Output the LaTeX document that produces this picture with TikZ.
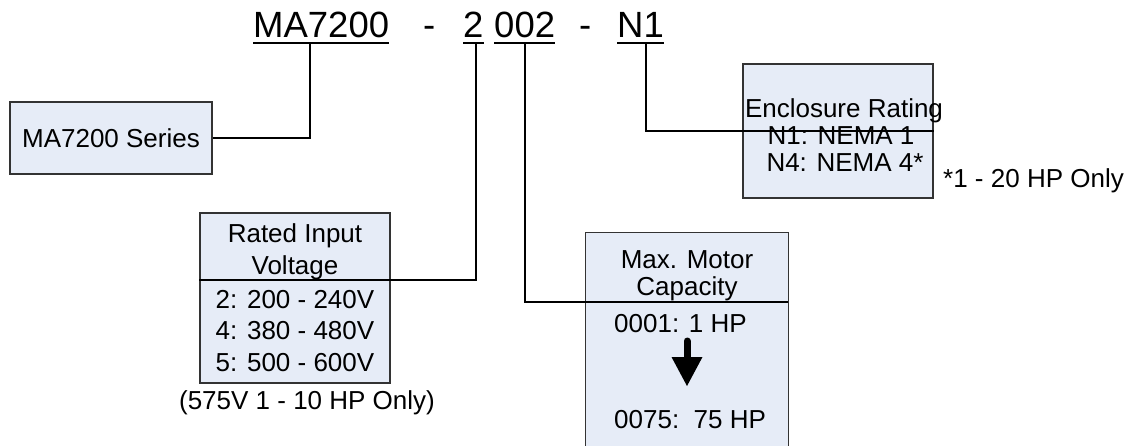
\documentclass[tikz,border=0pt]{standalone}
\usepackage{fontspec}
\setmainfont{Liberation Sans}
\definecolor{boxfill}{HTML}{E6ECF7}
\begin{document}
\begin{tikzpicture}[x=1pt,y=-1pt,
  box/.style={draw=black!80, line width=1.2pt, fill=boxfill, inner sep=0pt},
  conn/.style={line width=1.8pt},
  txt/.style={inner sep=0pt, anchor=base, font=\fontsize{26}{30}\selectfont},
  ttl/.style={inner sep=0pt, anchor=base west, font=\fontsize{36.5}{40}\selectfont},
  uline/.style={line width=1.8pt}
]
\useasboundingbox (0,0) rectangle (1131,446);

% title
\node[ttl] (t1) at (253,38) {MA7200};
\node[ttl] (d1) at (423,38) {-};
\node[ttl] (t2) at (463,38) {2};
\node[ttl] (t3) at (494,38) {002};
\node[ttl] (d2) at (579,38) {-};
\node[ttl] (t4) at (617,38) {N1};
\foreach \n in {t1,t2,t3,t4}{
  \draw[uline] ([yshift=-5pt]\n.base west) -- ([yshift=-5pt]\n.base east);
}

% boxes
\node[box, minimum width=202pt, minimum height=72pt, font=\fontsize{26}{30}\selectfont] (series) at (111,138) {MA7200 Series};
\node[box, minimum width=190pt, minimum height=170pt] (rated) at (295,298) {};
\node[box, minimum width=190pt, minimum height=134pt] (encl) at (838,131) {};
\node[fill=boxfill, inner sep=0pt, minimum width=202pt, minimum height=230pt] (maxc) at (687,348) {};
\draw[draw=black!80, line width=1.2pt] (maxc.south west) -- (maxc.north west) -- (maxc.north east) -- (maxc.south east);

% rated text
\node[txt] (r1) at (295,243) {Rated Input};
\node[txt] (r2) at (295,274) {Voltage};
\node[txt] (r3) at (295,308) {2: 200 - 240V};
\node[txt] (r4) at (295,339) {4: 380 - 480V};
\node[txt] (r5) at (295,371) {5: 500 - 600V};
\node[txt] (r6) at (307,409) {(575V 1 - 10 HP Only)};

% enclosure text
\node[txt] (e1) at (844,118) {Enclosure Rating};
\node[txt] (e2) at (841,145) {N1: NEMA 1};
\node[txt] (e3) at (845,172) {N4: NEMA 4*};
\node[txt, anchor=base west] (e4) at (943,188) {*1 - 20 HP Only};

% max motor text
\node[txt] (m1) at (687,268) {Max. Motor};
\node[txt] (m2) at (687,295) {Capacity};
\node[txt, anchor=base west] (m3) at (614,332) {0001: 1 HP};
\node[txt, anchor=base west] (m4) at (614,428) {0075:\ \ 75 HP};
\draw[line width=7pt, line cap=round] (687,341) -- (687,362);
\fill (671.5,357) -- (702.5,357) -- (687,386) -- cycle;

% connectors
\coordinate (c1) at (310,44);
\coordinate (c2) at (476,44);
\coordinate (c3) at (525,44);
\coordinate (c4) at (646,44);
\draw[conn] (c1) |- (series.east);
\draw[conn] (c2) -- (c2 |- 0,280) -- (rated.west |- 0,280);
\draw[conn] (c3) -- (c3 |- 0,302) -- (maxc.east |- 0,302);
\draw[conn] (c4) |- (encl.east);
\end{tikzpicture}
\end{document}
